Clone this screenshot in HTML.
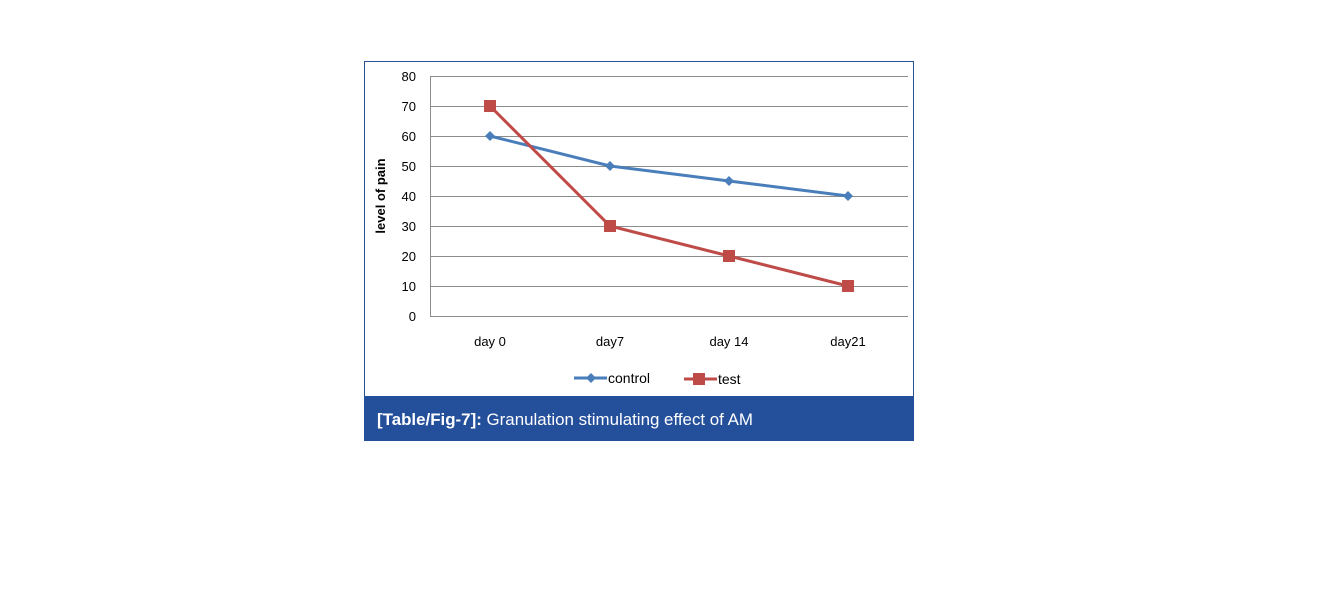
<!DOCTYPE html>
<html><head><style>
body{margin:0;background:#fff;}
</style></head><body>
<svg width="1341" height="605" xmlns="http://www.w3.org/2000/svg" style="display:block">
<rect x="364.5" y="61.5" width="549" height="379" fill="#fff" stroke="#2a4f96" stroke-width="1"/>
<g stroke="#8c8c8c" stroke-width="1">
<line x1="430" y1="76.5" x2="908" y2="76.5"/>
<line x1="430" y1="106.5" x2="908" y2="106.5"/>
<line x1="430" y1="136.5" x2="908" y2="136.5"/>
<line x1="430" y1="166.5" x2="908" y2="166.5"/>
<line x1="430" y1="196.5" x2="908" y2="196.5"/>
<line x1="430" y1="226.5" x2="908" y2="226.5"/>
<line x1="430" y1="256.5" x2="908" y2="256.5"/>
<line x1="430" y1="286.5" x2="908" y2="286.5"/>
<line x1="430" y1="316.5" x2="908" y2="316.5"/>
<line x1="430.5" y1="76" x2="430.5" y2="316"/>
</g>
<g font-family="Liberation Sans, sans-serif" font-size="13" fill="#000" text-anchor="end">
<text x="416" y="81">80</text><text x="416" y="111">70</text><text x="416" y="141">60</text>
<text x="416" y="171">50</text><text x="416" y="201">40</text><text x="416" y="231">30</text>
<text x="416" y="261">20</text><text x="416" y="291">10</text><text x="416" y="321">0</text>
</g>
<text transform="translate(385,196) rotate(-90)" font-family="Liberation Sans, sans-serif" font-size="13" font-weight="bold" text-anchor="middle">level of pain</text>
<g font-family="Liberation Sans, sans-serif" font-size="13" text-anchor="middle">
<text x="490" y="346">day 0</text><text x="610" y="346">day7</text>
<text x="729" y="346">day 14</text><text x="848" y="346">day21</text>
</g>
<polyline points="490,136 610,166 729,181 848,196" fill="none" stroke="#4a7ebb" stroke-width="3"/>
<g fill="#4a7ebb">
<polygon points="490,131 495,136 490,141 485,136"/><polygon points="610,161 615,166 610,171 605,166"/>
<polygon points="729,176 734,181 729,186 724,181"/><polygon points="848,191 853,196 848,201 843,196"/>
</g>
<polyline points="490,106 610,226 729,256 848,286" fill="none" stroke="#be4b48" stroke-width="3"/>
<g fill="#be4b48">
<rect x="484" y="100" width="12" height="12"/><rect x="604" y="220" width="12" height="12"/>
<rect x="723" y="250" width="12" height="12"/><rect x="842" y="280" width="12" height="12"/>
</g>
<line x1="574" y1="378" x2="607" y2="378" stroke="#4a7ebb" stroke-width="3"/>
<polygon points="591,373 596,378 591,383 586,378" fill="#4a7ebb"/>
<text x="608" y="383" font-family="Liberation Sans, sans-serif" font-size="14">control</text>
<line x1="684" y1="379" x2="717" y2="379" stroke="#be4b48" stroke-width="3"/>
<rect x="693" y="373" width="12" height="12" fill="#be4b48"/>
<text x="718" y="384" font-family="Liberation Sans, sans-serif" font-size="14">test</text>
<rect x="364" y="396" width="550" height="45" fill="#244f9b"/>
<text x="377" y="425" font-family="Liberation Sans, sans-serif" font-size="17" fill="#fff" textLength="376" lengthAdjust="spacingAndGlyphs"><tspan font-weight="bold">[Table/Fig-7]:</tspan> Granulation stimulating effect of AM</text>
</svg>
</body></html>
